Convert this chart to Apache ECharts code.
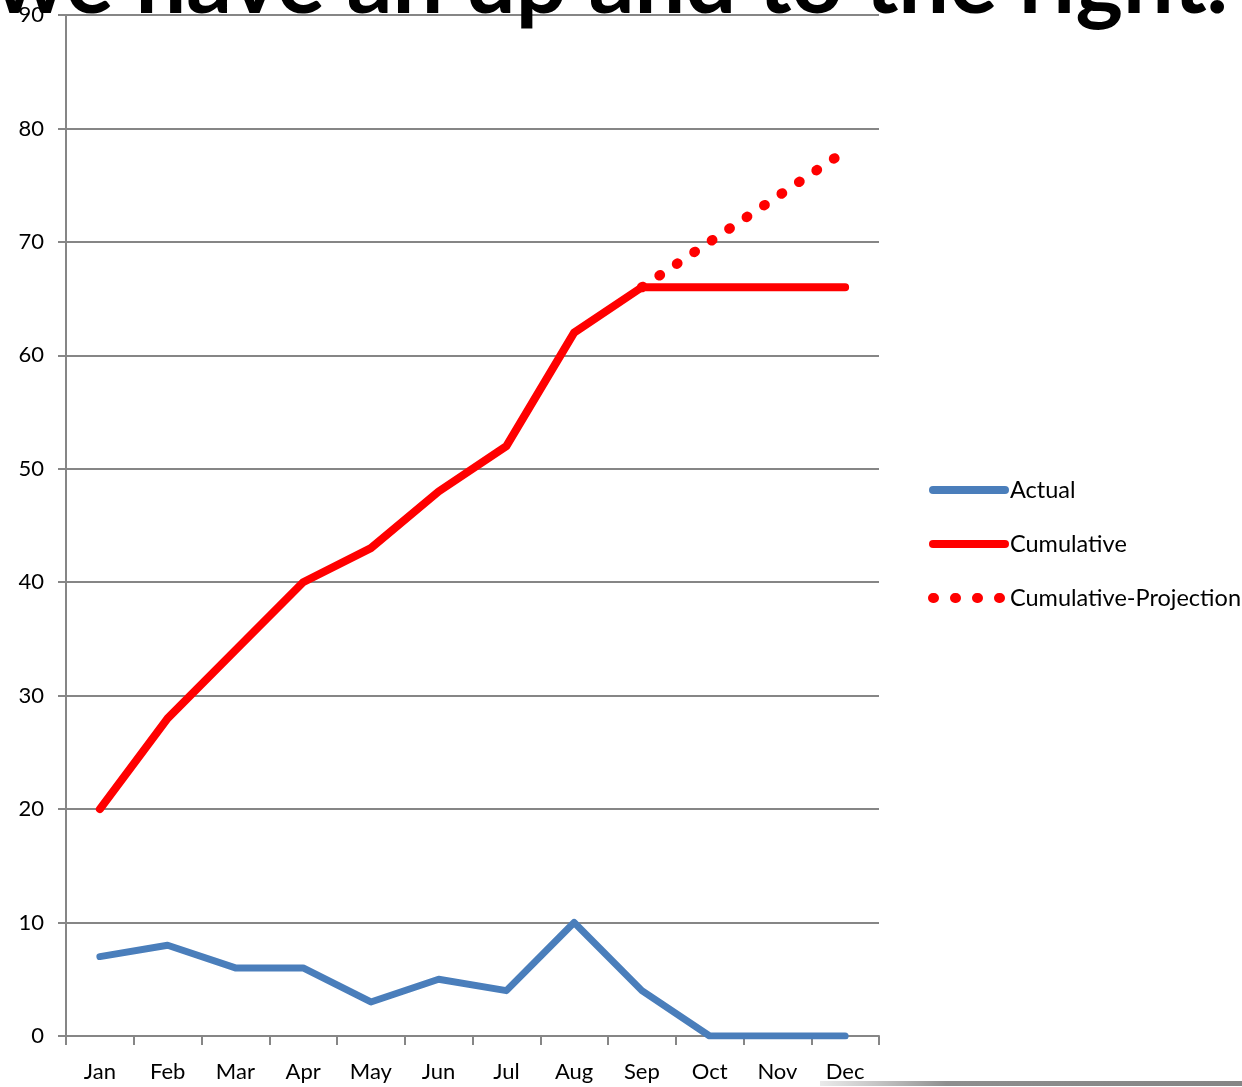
<!DOCTYPE html>
<html>
<head>
<meta charset="utf-8">
<script src="https://cdn.jsdelivr.net/npm/echarts@6/dist/echarts.min.js"></script>
<style>
html,body{margin:0;padding:0;background:#fff;}
#chart{width:1242px;height:1087px;}
</style>
</head>
<body>
<div id="chart"></div>
<script>
const months = ['Jan','Feb','Mar','Apr','May','Jun','Jul','Aug','Sep','Oct','Nov','Dec'];
const actual = [7, 8, 6, 6, 3, 5, 4, 10, 4, 0, 0, 0];
const cumulative = [20, 28, 34, 40, 43, 48, 52, 62, 66, 66, 66, 66];
const projection = [null, null, null, null, null, null, null, null, 66, 70, 74, 78];
const titleText = 'we have an up and to the right.';

const FONT = 'Lato, "Open Sans", sans-serif';
const GRID = '#868686';
const BLUE = '#4a7ebb';
const RED = '#ff0000';

const chart = echarts.init(document.getElementById('chart'), null, {renderer: 'canvas'});
chart.setOption({
  animation: false,
  backgroundColor: '#fff',
  grid: {left: 66, right: 363, top: 15, bottom: 51, containLabel: false},
  xAxis: {
    type: 'category',
    data: months,
    boundaryGap: true,
    axisLine: {lineStyle: {color: GRID, width: 2}},
    axisTick: {show: true, length: 9, lineStyle: {color: GRID, width: 2}},
    axisLabel: {color: '#000', fontSize: 22, fontFamily: FONT, margin: 25, interval: 0}
  },
  yAxis: {
    type: 'value',
    min: 0, max: 90, interval: 10,
    axisLine: {show: true, lineStyle: {color: GRID, width: 2}},
    axisTick: {show: true, length: 8, lineStyle: {color: GRID, width: 2}},
    axisLabel: {color: '#000', fontSize: 22, fontFamily: FONT, margin: 22},
    splitLine: {show: true, lineStyle: {color: GRID, width: 2}}
  },
  legend: {
    orient: 'vertical',
    left: 923,
    top: 473,
    itemWidth: 72,
    itemHeight: 10,
    itemGap: 30,
    textStyle: {color: '#000', fontSize: 23.5, fontFamily: FONT, lineHeight: 24},
    itemStyle: {opacity: 0},
    data: [
      {name: 'Actual', lineStyle: {width: 8, cap: 'round', color: BLUE}},
      {name: 'Cumulative', lineStyle: {width: 8, cap: 'round', color: RED}},
      {name: 'Cumulative-Projection', lineStyle: {width: 10, cap: 'round', type: [1, 21], color: RED}}
    ]
  },
  series: [
    {
      name: 'Actual', type: 'line', data: actual, symbol: 'none', z: 3,
      color: BLUE,
      lineStyle: {color: BLUE, width: 7, cap: 'round', join: 'round'}
    },
    {
      name: 'Cumulative-Projection', type: 'line', data: projection, symbol: 'none', z: 2,
      color: RED,
      lineStyle: {color: RED, width: 10, type: [1, 20], cap: 'round'}
    },
    {
      name: 'Cumulative', type: 'line', data: cumulative, symbol: 'none', z: 4,
      color: RED,
      lineStyle: {color: RED, width: 8, cap: 'round', join: 'round'}
    }
  ],
  graphic: [
    {
      type: 'text', left: -6, top: -61, z: 100,
      style: {text: titleText, font: 'bold 90px ' + FONT, fill: '#000'}
    },
    {
      type: 'rect', z: 1,
      shape: {x: 820, y: 1081, width: 422, height: 5},
      style: {fill: new echarts.graphic.LinearGradient(0, 0, 1, 0, [
        {offset: 0, color: 'rgba(150,150,150,0.2)'},
        {offset: 0.3, color: 'rgba(130,130,130,0.9)'},
        {offset: 1, color: 'rgba(120,120,120,0.9)'}
      ])}
    }
  ]
});
</script>
</body>
</html>
